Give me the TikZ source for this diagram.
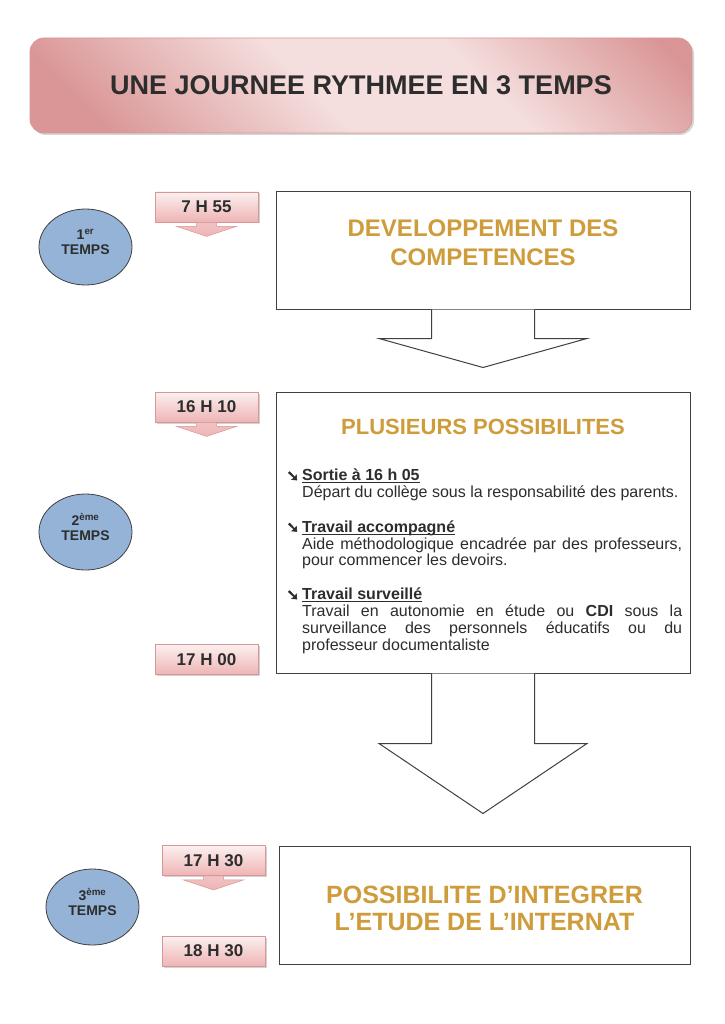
\documentclass[tikz,border=0pt]{standalone}
\usepackage{fontspec}
\setmainfont{Liberation Sans}
\newfontfamily\symbfont[FakeBold=4]{DejaVu Sans}
\usetikzlibrary{shapes.geometric,shadows}
\definecolor{dore}{RGB}{206,156,58}
\definecolor{gris}{RGB}{45,45,45}
\definecolor{trait}{RGB}{64,64,64}
\definecolor{bleu}{RGB}{149,179,215}
\definecolor{rosebord}{RGB}{217,150,148}
\definecolor{roseclair}{RGB}{252,240,240}
\definecolor{rosefonce}{RGB}{238,180,180}
\definecolor{titrefonce}{RGB}{218,150,150}
\definecolor{titreclair}{RGB}{245,222,222}
\pgfdeclarehorizontalshading{titrerose}{100bp}{color(0bp)=(titrefonce); color(22bp)=(titrefonce);
  color(45bp)=(titreclair); color(62bp)=(titreclair); color(82bp)=(titrefonce); color(100bp)=(titrefonce)}
\tikzstyle{heure}=[draw=rosebord, line width=0.8pt, top color=roseclair, bottom color=rosefonce,
  minimum width=103pt, minimum height=30pt, inner sep=0pt, text=gris,
  font=\bfseries\fontsize{17}{17}\selectfont,
  drop shadow={shadow xshift=1.5pt, shadow yshift=-1.5pt, fill=black!35, opacity=.5}]
\tikzstyle{pointe}=[draw=rosebord, line width=0.5pt, top color=rosefonce!80!white, bottom color=rosefonce]
\tikzstyle{temps}=[ellipse, draw=trait, fill=bleu, line width=0.8pt, minimum width=93pt,
  minimum height=76pt, inner sep=0pt]
\tikzstyle{tempstxt}=[align=center, text=gris, font=\bfseries\fontsize{14}{15}\selectfont]
\tikzstyle{cadre}=[draw=trait, line width=1pt, inner sep=0pt]
\tikzstyle{gros}=[text=dore, align=center, font=\bfseries\fontsize{24}{29}\selectfont]
\newcommand{\heure}{\node[heure]}
\newcommand{\pointe}[1]{\path[pointe] (#1.south) ++(-10,0) -- ++(0,4) -- ++(-20,0)
  -- ++(30,10) -- ++(30,-10) -- ++(-20,0) -- ++(0,-4) -- cycle;}
\newcommand{\puce}[1]{\leavevmode\llap{{\symbfont\fontsize{15}{12}\selectfont ➘}\hspace{3pt}}\textbf{\underline{\smash{#1}}}}

\begin{document}
\begin{tikzpicture}[x=1pt, y=-1pt]
\useasboundingbox (0,0) rectangle (724,1024);
\fill[white] (0,0) rectangle (724,1024);

% titre
\node[draw=rosebord, line width=0.8pt, rounded corners=14pt, minimum width=662pt, minimum height=95pt,
  shading=titrerose, shading angle=45,
  drop shadow={shadow xshift=2pt, shadow yshift=-2pt, fill=black!40, opacity=.4},
  text=gris, font=\bfseries\fontsize{27}{27}\selectfont] (titre) at (361,85.5)
  {UNE JOURNEE RYTHMEE EN 3 TEMPS};

% les trois cadres
\node[cadre, minimum width=414pt, minimum height=117pt] (dev) at (483,250.5) {};
\node[cadre, minimum width=414pt, minimum height=281pt] (poss) at (483,532.5) {};
\node[cadre, minimum width=411pt, minimum height=118pt] (inter) at (484.5,905) {};

% fleches blanches
\path[fill=white] (dev.south) ++(-51.5,0) -- ++(0,29) -- ++(-52.5,0) -- ++(104,29)
  -- ++(104,-29) -- ++(-52.5,0) -- ++(0,-29) -- cycle;
\draw[trait, line width=1pt] (dev.south) ++(-51.5,0) -- ++(0,29) -- ++(-52.5,0) -- ++(104,29)
  -- ++(104,-29) -- ++(-52.5,0) -- ++(0,-29);
\path[fill=white] (poss.south) ++(-51.5,0) -- ++(0,70) -- ++(-52.5,0) -- ++(104,70)
  -- ++(104,-70) -- ++(-52.5,0) -- ++(0,-70) -- cycle;
\draw[trait, line width=1pt] (poss.south) ++(-51.5,0) -- ++(0,70) -- ++(-52.5,0) -- ++(104,70)
  -- ++(104,-70) -- ++(-52.5,0) -- ++(0,-70);

% textes des cadres
\node[gros] (devtxt) at (483,242.5) {DEVELOPPEMENT DES\\COMPETENCES};
\node[gros, font=\bfseries\fontsize{22}{22}\selectfont] (posstxt) at (483,427) {PLUSIEURS POSSIBILITES};
\node[gros, font=\bfseries\fontsize{25}{27}\selectfont] (intertxt) at (484.5,908.5)
  {POSSIBILITE D’INTEGRER\\L’ETUDE DE L’INTERNAT};
\node[anchor=north west, inner sep=0pt, text width=380pt, align=justify, text=gris,
  font=\fontsize{16}{16.7}\selectfont] (liste) at (302,471.5) {%
  \setlength{\parindent}{0pt}%
  \puce{Sortie à 16 h 05}\par
  Départ du collège sous la responsabilité des parents.\par\vspace{18pt}
  \puce{Travail accompagné}\par
  Aide méthodologique encadrée par des professeurs,\linebreak pour commencer les devoirs.\par\vspace{17.5pt}
  \puce{Travail surveillé}\par
  Travail en autonomie en étude ou \textbf{CDI} sous la\linebreak surveillance des personnels éducatifs ou du\linebreak professeur documentaliste\par};

% heures
\heure (h1) at (206.5,207) {7 H 55};
\pointe{h1}
\heure (h2) at (206.5,407) {16 H 10};
\pointe{h2}
\heure (h3) at (206.5,659.5) {17 H 00};
\heure (h4) at (213.5,860.5) {17 H 30};
\pointe{h4}
\heure (h5) at (213.5,951) {18 H 30};

% temps
\node[temps] (t1) at (85.5,247) {};
\node[tempstxt] (t1txt) at (85.5,242) {1\textsuperscript{er}\\TEMPS};
\node[temps] (t2) at (85.5,532) {};
\node[tempstxt] (t2txt) at (85.5,527) {2\textsuperscript{ème}\\TEMPS};
\node[temps] (t3) at (92.5,907) {};
\node[tempstxt] (t3txt) at (92.5,902) {3\textsuperscript{ème}\\TEMPS};
\end{tikzpicture}
\end{document}
